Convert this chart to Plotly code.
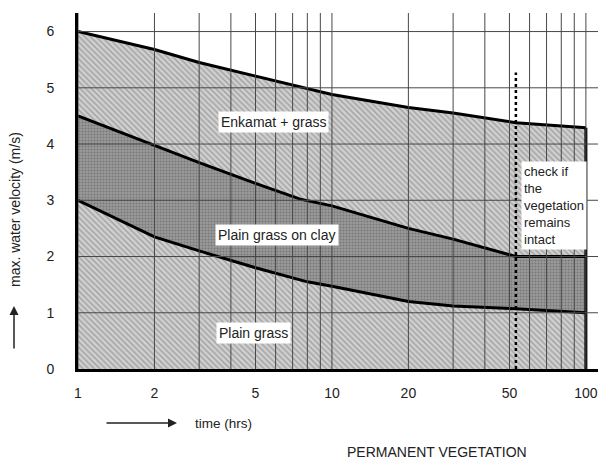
import numpy as np
import plotly.graph_objects as go

# ---- data ----
times_top = [1, 2, 3, 5, 7.5, 10, 20, 30, 53, 100]
enkamat_grass = [6.0, 5.68, 5.45, 5.21, 5.02, 4.88, 4.65, 4.55, 4.38, 4.29]

times_mid = [1, 2, 3, 5, 7.5, 10, 20, 30, 53, 100]
plain_grass_clay = [4.5, 3.97, 3.67, 3.3, 3.02, 2.9, 2.5, 2.31, 2.0, 2.0]

times_low = [1, 2, 3, 5, 8, 10, 20, 30, 53, 100]
plain_grass = [3.0, 2.35, 2.1, 1.8, 1.55, 1.47, 1.2, 1.12, 1.07, 1.0]

check_time = 53
check_top = 5.27

x_tick_vals = [1, 2, 3, 4, 5, 6, 7, 8, 9, 10, 20, 30, 40, 50, 60, 70, 80, 90, 100]
x_tick_text = ["1", "2", "", "", "5", "", "", "", "", "10", "20", "", "", "50", "", "", "", "", "100"]
y_tick_vals = [0, 1, 2, 3, 4, 5, 6]

FONT = "Liberation Sans, Arial, sans-serif"
TXT = "#222222"

light_pat = dict(shape="\\", bgcolor="#d0d0d0", fgcolor="#707070", size=4, solidity=0.35)
dark_pat = dict(shape=".", bgcolor="#999999", fgcolor="#555555", size=3, solidity=0.35)

fig = go.Figure()
fig.add_trace(go.Scatter(x=times_top, y=enkamat_grass, mode="lines", fill="tozeroy",
                         fillcolor="#d0d0d0", fillpattern=light_pat,
                         line=dict(color="black", width=3), hoverinfo="skip"))
fig.add_trace(go.Scatter(x=times_mid, y=plain_grass_clay, mode="lines", fill="tozeroy",
                         fillcolor="#999999", fillpattern=dark_pat,
                         line=dict(color="black", width=3), hoverinfo="skip"))
fig.add_trace(go.Scatter(x=times_low, y=plain_grass, mode="lines", fill="tozeroy",
                         fillcolor="#d0d0d0", fillpattern=light_pat,
                         line=dict(color="black", width=3), hoverinfo="skip"))
# right edge of the filled area
fig.add_trace(go.Scatter(x=[times_top[-1], times_top[-1]], y=[0, enkamat_grass[-1]], mode="lines",
                         line=dict(color="black", width=3), hoverinfo="skip"))
# dotted check line
fig.add_trace(go.Scatter(x=[check_time, check_time], y=[0, check_top], mode="lines",
                         line=dict(color="black", width=2.5, dash="dot"), hoverinfo="skip"))

shapes = []
for v in x_tick_vals:
    shapes.append(dict(type="line", xref="x", yref="paper", x0=v, x1=v, y0=0, y1=1,
                       line=dict(color="#484848", width=1), layer="above"))
for v in y_tick_vals[1:]:
    shapes.append(dict(type="line", xref="paper", yref="y", x0=0, x1=1, y0=v, y1=v,
                       line=dict(color="#484848", width=1), layer="above"))

# page offset of the figure div (default body margin)
OFF = 8
PL, PR, PT, PB = 78, 606, 13, 369   # plot area in page pixels
PW, PH = PR - PL, PB - PT
def px(xp):
    return (xp - PL) / PW
def py(yp):
    return (PB - yp) / PH

ann = []
box = dict(bgcolor="white", borderpad=2, showarrow=False,
           font=dict(family=FONT, size=14, color=TXT))
ann.append(dict(x=np.log10(5.9), y=4.4, xref="x", yref="y", text="Enkamat + grass", **box))
ann.append(dict(x=np.log10(6.1), y=2.38, xref="x", yref="y", text="Plain grass on clay", **box))
ann.append(dict(x=np.log10(4.9), y=0.64, xref="x", yref="y", text="Plain grass", **box))
ann.append(dict(x=np.log10(55.5), y=2.9, xref="x", yref="y", xanchor="left",
                text="check if<br>the<br>vegetation<br>remains<br>intact", align="left",
                bgcolor="white", borderpad=2, showarrow=False,
                font=dict(family=FONT, size=13, color=TXT)))
# axis titles
ann.append(dict(x=px(15), y=py(210), xref="paper", yref="paper", text="max. water velocity (m/s)",
                xanchor="center", yanchor="middle",
                textangle=-90, showarrow=False, font=dict(family=FONT, size=14, color=TXT)))
ann.append(dict(x=px(14), y=py(306), xref="paper", yref="paper", text="",
                showarrow=True, ax=0, ay=44,
                arrowhead=2, arrowsize=1.2, arrowwidth=1.5, arrowcolor=TXT))
ann.append(dict(x=px(193), y=py(423), xref="paper", yref="paper",
                text="time (hrs)", xanchor="left", yanchor="middle", showarrow=False,
                font=dict(family=FONT, size=13.5, color=TXT)))
ann.append(dict(x=px(177), y=py(423), xref="paper", yref="paper", text="",
                showarrow=True, ax=-72, ay=0,
                arrowhead=2, arrowsize=1.2, arrowwidth=1.5, arrowcolor=TXT))
ann.append(dict(x=px(345), y=py(452), xref="paper", yref="paper",
                text="PERMANENT VEGETATION", xanchor="left", yanchor="middle", showarrow=False,
                font=dict(family=FONT, size=14, color=TXT)))

W, H = 606 - OFF, 459 - OFF
fig.update_layout(
    width=W, height=H,
    margin=dict(l=PL - OFF, r=606 - PR, t=PT - OFF, b=459 - PB, autoexpand=False),
    paper_bgcolor="white", plot_bgcolor="white",
    showlegend=False,
    shapes=shapes, annotations=ann,
    xaxis=dict(type="log", range=[0, np.log10(120)], tickvals=x_tick_vals, ticktext=x_tick_text,
               showgrid=False, zeroline=False, showline=True, linecolor="black", linewidth=3,
               ticks="", automargin=False, ticklabelstandoff=9,
               tickfont=dict(family=FONT, size=14, color=TXT)),
    yaxis=dict(range=[0, 6.33], tickvals=y_tick_vals, showgrid=False, zeroline=False,
               showline=True, linecolor="black", linewidth=3, ticks="", automargin=False,
               ticklabelstandoff=18,
               tickfont=dict(family=FONT, size=14, color=TXT)),
)

fig.write_html("out.html")
